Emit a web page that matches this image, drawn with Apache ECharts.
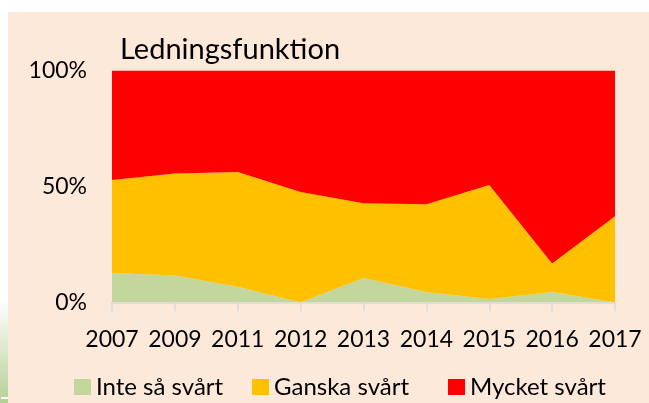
<!DOCTYPE html>
<html>
<head>
<meta charset="utf-8">
<script src="https://cdn.jsdelivr.net/npm/echarts@6/dist/echarts.min.js"></script>
<style>
html,body{margin:0;padding:0;background:#fff;}
#c{width:649px;height:403px;}
</style>
</head>
<body>
<div id="c"></div>
<script>
const categories = ['2007','2009','2011','2012','2013','2014','2015','2016','2017'];
const inteSaSvart = [12.6, 11.6, 6.7, 0, 10.5, 4.4, 1.4, 4.4, 0];
const ganskaSvart = [40.2, 44.0, 49.5, 47.6, 32.2, 37.9, 49.2, 12.3, 37.1];
const mycketSvart = [47.2, 44.4, 43.8, 52.4, 57.3, 57.7, 49.4, 83.3, 62.9];
const seriesNames = ['Inte så svårt', 'Ganska svårt', 'Mycket svårt'];
const yTicks = [0, 50, 100];

const FONT = 'Lato';
const colors = ['#C3D69B', '#FFC000', '#FF0000'];
const chart = echarts.init(document.getElementById('c'), null, {renderer: 'canvas'});

const legendX = [74, 252, 448];
const mk = (name, data, color) => ({
  name, type: 'line', stack: 'total', data,
  symbol: 'none', lineStyle: {width: 0}, areaStyle: {color, opacity: 1},
  itemStyle: {color}, emphasis: {disabled: true}
});

chart.setOption({
  animation: false,
  backgroundColor: 'transparent',
  textStyle: {fontFamily: FONT},
  graphic: [
    {type: 'rect', z: -10, shape: {x: 8, y: 12, width: 641, height: 391}, style: {fill: '#FDE9DA'}},
    {type: 'rect', z: -10, shape: {x: 0, y: 300, width: 8, height: 103},
      style: {fill: new echarts.graphic.LinearGradient(0, 0, 0, 1, [{offset: 0, color: '#ffffff'}, {offset: 1, color: '#B5CF94'}])}},
    {type: 'rect', z: -9, shape: {x: 1, y: 397, width: 7, height: 2}, style: {fill: '#ffffff'}},
    {type: 'text', left: 120, top: 35, style: {text: 'Ledningsfunktion', font: '29px ' + FONT, fill: '#000'}}
  ],
  legend: seriesNames.map((n, i) => ({
    data: [n], left: legendX[i], top: 375, padding: 0, icon: 'rect', itemWidth: 17, itemHeight: 16, itemGap: 5,
    textStyle: {fontSize: 24, color: '#000', fontFamily: FONT}, selectedMode: false
  })),
  grid: {left: 112, right: 34, top: 70.5, bottom: 100.7, containLabel: false},
  xAxis: {
    type: 'category', data: categories, boundaryGap: false,
    axisLine: {show: true, lineStyle: {color: '#D9D9D9', width: 1.5}},
    axisTick: {show: true, length: 9, lineStyle: {color: '#D9D9D9', width: 1.5}},
    axisLabel: {fontSize: 23, color: '#000', margin: 26, fontFamily: FONT, interval: 0},
    splitLine: {show: false}
  },
  yAxis: {
    type: 'value', min: yTicks[0], max: yTicks[2], interval: 50,
    axisLine: {show: false}, axisTick: {show: false}, splitLine: {show: false},
    axisLabel: {formatter: '{value}%', fontSize: 23, color: '#000', margin: 25, fontFamily: FONT}
  },
  series: [
    mk(seriesNames[0], inteSaSvart, colors[0]),
    mk(seriesNames[1], ganskaSvart, colors[1]),
    mk(seriesNames[2], mycketSvart, colors[2])
  ]
});
</script>
</body>
</html>
